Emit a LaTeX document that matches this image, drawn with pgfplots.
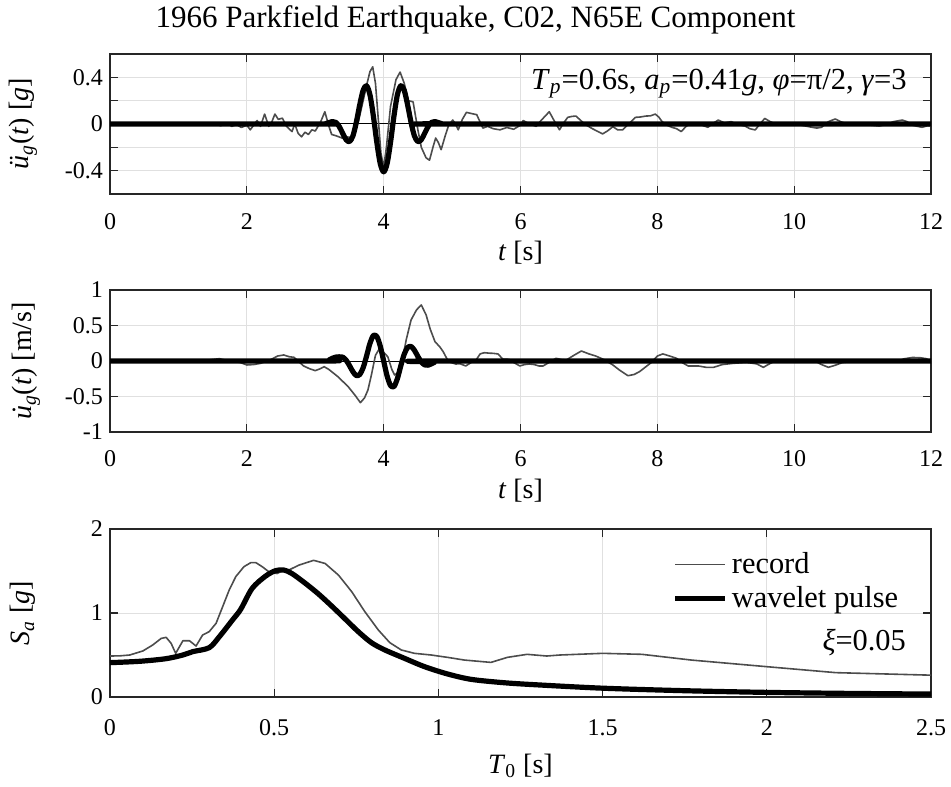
\documentclass[border=0pt]{standalone}
\usepackage{fontspec}
\setmainfont{Liberation Serif}
\usepackage{pgfplots}
\pgfplotsset{compat=1.18}
\definecolor{recgray}{gray}{0.3}
\newcommand{\udot}{\textit{\makebox[0pt][l]{\hspace{0.13em}˙}u}}
\pgfplotsset{
  mybase/.style={
    scale only axis, width=410.5pt,
    tick align=inside, tick pos=both,
    major tick length=4pt,
    axis line style={black!85, line width=0.6pt},
    tick style={black!85, line width=0.6pt},
    grid=major, grid style={black!12, line width=0.5pt},
    tick label style={font=\fontsize{12}{12}\selectfont},
    label style={font=\fontsize{14}{14}\selectfont},
    /pgf/number format/assume math mode=true,
    ylabel style={at={(axis description cs:0,0.5)}, anchor=center, yshift=43.5pt},
    legend image code/.code={\draw[##1] (0pt,0pt) -- (25pt,0pt);},
  },
  recline/.style={recgray, line width=0.8pt, line join=round},
  pulse/.style={black, line width=2.6pt, line join=round},
}
\begin{document}
\begin{tikzpicture}
\path[use as bounding box] (0,0) rectangle (475.5pt,-393pt);
% ---------------- acceleration ----------------
\begin{axis}[mybase, at={(55pt,-97pt)}, anchor=south west, height=70pt,
  xmin=0, xmax=12, ymin=-0.6, ymax=0.6,
  xtick={0,2,4,6,8,10,12}, xticklabels={0,2,4,6,8,10,12},
  xticklabel style={anchor=base, yshift=-17.5pt},
  ytick={-0.4,-0.2,0,0.2,0.4}, yticklabels={-0.4,,0,,0.4},
  xlabel={\textit{t} [s]},
  xlabel style={at={(axis description cs:0.5,0)}, anchor=center, yshift=-29.5pt},
  ylabel={\textit{ü}\textsubscript{\textit{g}}(\textit{t}) [\textit{g}]},
  title={1966 Parkfield Earthquake, C02, N65E Component},
  title style={at={(0.4452,1)}, anchor=base, yshift=7.25pt, font=\fontsize{15.5}{15.5}\selectfont},
]
\addplot[black, line width=0.5pt] coordinates {(0,0) (12,0)};
\addplot[recline] coordinates {
(0,0) (0.5,0.002) (1.0,-0.003) (1.3,0.003) (1.55,0) (1.62,-0.015) (1.7,0.01) (1.78,-0.02) (1.85,-0.005) (1.92,-0.03) (2.0,-0.01) (2.05,-0.05) (2.1,-0.01) (2.15,0.03) (2.2,-0.02) (2.26,0.085) (2.32,-0.02) (2.36,0.01) (2.41,0.085) (2.46,0.04) (2.52,0.05) (2.58,-0.02) (2.66,-0.065) (2.7,0.0) (2.75,-0.08) (2.8,-0.11) (2.85,-0.07) (2.9,-0.09) (2.95,-0.05) (3.0,-0.06) (3.08,0.02) (3.14,0.105) (3.2,-0.02) (3.24,-0.09) (3.3,-0.1) (3.39,-0.12) (3.45,-0.11) (3.53,-0.115) (3.58,-0.06) (3.63,0.02) (3.7,0.2) (3.75,0.33) (3.8,0.45) (3.84,0.49) (3.88,0.35) (3.92,0.05) (3.96,-0.25) (4.0,-0.37) (4.04,-0.2) (4.1,0.15) (4.18,0.38) (4.24,0.445) (4.3,0.35) (4.36,0.2) (4.43,0.19) (4.5,-0.05) (4.55,-0.2) (4.62,-0.29) (4.67,-0.31) (4.72,-0.2) (4.76,-0.12) (4.8,-0.16) (4.84,-0.22) (4.9,-0.1) (4.95,-0.01) (5.01,0.034) (5.05,0.0) (5.09,-0.05) (5.15,0.04) (5.21,0.1) (5.28,0.09) (5.36,0.08) (5.45,-0.035) (5.52,-0.02) (5.6,-0.04) (5.7,-0.05) (5.8,-0.03) (5.9,-0.045) (6.0,-0.01) (6.04,0.03) (6.1,0.01) (6.18,-0.01) (6.23,-0.02) (6.3,0.03) (6.42,0.105) (6.5,0.02) (6.57,-0.05) (6.62,0.0) (6.69,0.057) (6.75,0.065) (6.81,0.068) (6.9,0.02) (6.96,-0.009) (7.05,-0.04) (7.2,-0.085) (7.27,-0.06) (7.35,-0.023) (7.42,-0.05) (7.49,-0.051) (7.58,0.0) (7.68,0.057) (7.75,0.06) (7.83,0.068) (7.9,0.07) (7.97,0.085) (8.02,0.06) (8.07,0.02) (8.14,-0.01) (8.21,-0.028) (8.28,-0.04) (8.35,-0.065) (8.42,-0.02) (8.5,0.006) (8.6,0.0) (8.74,-0.028) (8.8,0.0) (8.89,0.034) (8.98,0.01) (9.08,0.02) (9.18,-0.005) (9.28,-0.017) (9.35,-0.04) (9.43,-0.051) (9.5,0.0) (9.57,0.048) (9.65,0.02) (9.77,-0.009) (9.9,0.0) (10.1,-0.01) (10.26,-0.028) (10.33,-0.035) (10.4,-0.028) (10.5,0.02) (10.6,0.043) (10.68,0.02) (10.75,0.006) (10.85,-0.01) (11.0,0.0) (11.12,-0.01) (11.24,-0.017) (11.35,-0.005) (11.45,0.02) (11.58,0.034) (11.65,0.02) (11.72,-0.009) (11.8,-0.02) (11.87,-0.028) (11.95,-0.015) (12,-0.017)
};
\addplot[pulse, smooth] coordinates {
(0,0) (3.1,0) (3.15,0.003) (3.2,0.012) (3.25,0.021) (3.3,0.014) (3.35,-0.021) (3.4,-0.079) (3.45,-0.134) (3.5,-0.151) (3.55,-0.103) (3.6,0.014) (3.65,0.164) (3.7,0.289) (3.75,0.328) (3.8,0.249) (3.85,0.066) (3.9,-0.158) (3.95,-0.340) (4.0,-0.410) (4.05,-0.340) (4.1,-0.158) (4.15,0.066) (4.2,0.249) (4.25,0.328) (4.3,0.289) (4.35,0.164) (4.4,0.014) (4.45,-0.103) (4.5,-0.151) (4.55,-0.134) (4.6,-0.079) (4.65,-0.021) (4.7,0.014) (4.75,0.021) (4.8,0.012) (4.85,0.003) (4.9,0) (12,0)
};
\node[anchor=east, font=\fontsize{15.3}{15.3}\selectfont] at (rel axis cs:0.979,0.79)
  {\textit{T}\textsubscript{\textit{p}}=0.6s, \textit{a}\textsubscript{\textit{p}}=0.41\textit{g}, \textit{φ}=π/2, \textit{γ}=3};
\end{axis}
% ---------------- velocity ----------------
\begin{axis}[mybase, at={(55pt,-216pt)}, anchor=south west, height=71pt,
  xmin=0, xmax=12, ymin=-1, ymax=1,
  xtick={0,2,4,6,8,10,12}, xticklabels={0,2,4,6,8,10,12},
  xticklabel style={anchor=base, yshift=-17pt},
  ytick={-1,-0.5,0,0.5,1}, yticklabels={-1,-0.5,0,0.5,1},
  xlabel={\textit{t} [s]},
  xlabel style={at={(axis description cs:0.5,0)}, anchor=center, yshift=-29.5pt},
  ylabel={\udot\textsubscript{\textit{g}}(\textit{t}) [m/s]},
  ylabel style={yshift=-1.5pt},
]
\addplot[black, line width=0.5pt] coordinates {(0,0) (12,0)};
\addplot[recline] coordinates {
(0,0) (1.0,0.003) (1.4,0.01) (1.6,0.033) (1.7,0.01) (1.9,-0.02) (2.0,-0.056) (2.1,-0.05) (2.2,-0.033) (2.35,0.02) (2.45,0.07) (2.54,0.085) (2.62,0.06) (2.69,0.052) (2.76,-0.01) (2.83,-0.07) (2.92,-0.11) (3.0,-0.136) (3.07,-0.11) (3.13,-0.08) (3.2,-0.12) (3.33,-0.22) (3.48,-0.36) (3.58,-0.48) (3.66,-0.587) (3.72,-0.52) (3.77,-0.408) (3.82,-0.2) (3.88,0.08) (3.94,0.178) (4.0,0.12) (4.06,0.061) (4.12,-0.12) (4.16,-0.197) (4.2,-0.17) (4.26,-0.05) (4.33,0.3) (4.4,0.577) (4.48,0.72) (4.55,0.789) (4.62,0.65) (4.68,0.45) (4.75,0.272) (4.82,0.2) (4.87,0.131) (4.92,0.04) (4.95,-0.009) (5.05,-0.042) (5.12,-0.04) (5.2,-0.07) (5.28,-0.02) (5.35,0.014) (5.41,0.1) (5.47,0.117) (5.55,0.11) (5.6,0.108) (5.67,0.1) (5.74,0.028) (5.83,0.023) (5.9,-0.02) (5.99,-0.07) (6.06,-0.05) (6.13,-0.042) (6.2,-0.05) (6.27,-0.07) (6.33,-0.07) (6.4,-0.03) (6.45,0.0) (6.52,0.038) (6.6,0.02) (6.67,0.014) (6.78,0.08) (6.89,0.141) (7.0,0.1) (7.1,0.07) (7.22,0.02) (7.35,-0.056) (7.45,-0.13) (7.57,-0.207) (7.66,-0.19) (7.74,-0.15) (7.82,-0.09) (7.91,-0.023) (8.0,0.07) (8.08,0.1) (8.18,0.07) (8.28,0.038) (8.36,-0.02) (8.45,-0.07) (8.6,-0.07) (8.72,-0.09) (8.82,-0.09) (8.95,-0.05) (9.11,-0.033) (9.3,-0.02) (9.45,-0.04) (9.55,-0.089) (9.62,-0.05) (9.7,-0.009) (9.9,0.0) (10.3,0.0) (10.4,-0.05) (10.5,-0.089) (10.6,-0.06) (10.7,-0.023) (10.9,0.0) (11.1,0.01) (11.29,0.014) (11.45,0.01) (11.53,0.0) (11.6,0.03) (11.73,0.05) (11.85,0.045) (11.93,0.033) (12,0.0)
};
\addplot[pulse, smooth] coordinates {
(0,0) (3.15,0) (3.2,0.015) (3.25,0.039) (3.3,0.055) (3.35,0.059) (3.4,0.055) (3.45,0.013) (3.5,-0.064) (3.55,-0.15) (3.6,-0.205) (3.65,-0.19) (3.7,-0.095) (3.75,0.07) (3.8,0.25) (3.85,0.36) (3.9,0.345) (3.95,0.21) (4.0,0) (4.05,-0.21) (4.1,-0.345) (4.15,-0.36) (4.2,-0.25) (4.25,-0.07) (4.3,0.095) (4.35,0.19) (4.4,0.205) (4.45,0.15) (4.5,0.064) (4.55,-0.013) (4.6,-0.055) (4.65,-0.059) (4.7,-0.039) (4.75,-0.015) (4.8,0) (12,0)
};
\end{axis}
% ---------------- spectrum ----------------
\begin{axis}[mybase, at={(55pt,-348.5pt)}, anchor=south west, height=84pt,
  xmin=0, xmax=2.5, ymin=0, ymax=2,
  xtick={0,0.5,1,1.5,2,2.5}, xticklabels={0,0.5,1,1.5,2,2.5},
  xticklabel style={anchor=base, yshift=-19pt},
  ytick={0,1,2}, yticklabels={0,1,2},
  xlabel={\textit{T}\textsubscript{0} [s]},
  xlabel style={at={(axis description cs:0.5,0)}, anchor=center, yshift=-34.5pt},
  ylabel={\textit{S}\textsubscript{\textit{a}} [\textit{g}]},
  legend style={at={(0.68,0.91)}, anchor=north west, draw=none, fill=none,
    font=\fontsize{15.2}{15.2}\selectfont, row sep=1pt, inner sep=2pt},
  legend cell align=left,
]
\addplot[recline] coordinates {
(0,0.488) (0.03,0.49) (0.06,0.5) (0.1,0.548) (0.13,0.619) (0.156,0.698) (0.171,0.71) (0.186,0.64) (0.2,0.52) (0.222,0.67) (0.242,0.67) (0.262,0.607) (0.282,0.738) (0.302,0.778) (0.323,0.877) (0.343,1.075) (0.363,1.274) (0.383,1.433) (0.408,1.552) (0.429,1.6) (0.444,1.6) (0.464,1.55) (0.484,1.49) (0.509,1.47) (0.524,1.5) (0.544,1.51) (0.575,1.57) (0.62,1.627) (0.655,1.59) (0.696,1.45) (0.736,1.254) (0.776,1.016) (0.817,0.798) (0.852,0.647) (0.887,0.56) (0.927,0.52) (0.978,0.5) (1.028,0.472) (1.079,0.44) (1.16,0.412) (1.21,0.472) (1.27,0.508) (1.33,0.488) (1.37,0.5) (1.5,0.52) (1.62,0.508) (1.77,0.44) (2.0,0.361) (2.21,0.29) (2.48,0.262) (2.5,0.26)
};
\addlegendentry{record}
\addplot[pulse, smooth] coordinates {
(0,0.409) (0.09,0.425) (0.17,0.456) (0.222,0.5) (0.252,0.54) (0.302,0.587) (0.333,0.718) (0.373,0.917) (0.398,1.044) (0.433,1.294) (0.474,1.44) (0.504,1.504) (0.529,1.512) (0.554,1.47) (0.595,1.353) (0.635,1.226) (0.675,1.083) (0.716,0.929) (0.756,0.778) (0.796,0.647) (0.837,0.56) (0.897,0.46) (0.958,0.361) (1.028,0.274) (1.1,0.21) (1.2,0.17) (1.3,0.145) (1.5,0.105) (1.75,0.075) (2.0,0.055) (2.25,0.043) (2.5,0.035)
};
\addlegendentry{wavelet pulse}
\node[anchor=east, font=\fontsize{15.2}{15.2}\selectfont] at (rel axis cs:0.978,0.327) {\textit{ξ}=0.05};
\end{axis}
\end{tikzpicture}
\end{document}
